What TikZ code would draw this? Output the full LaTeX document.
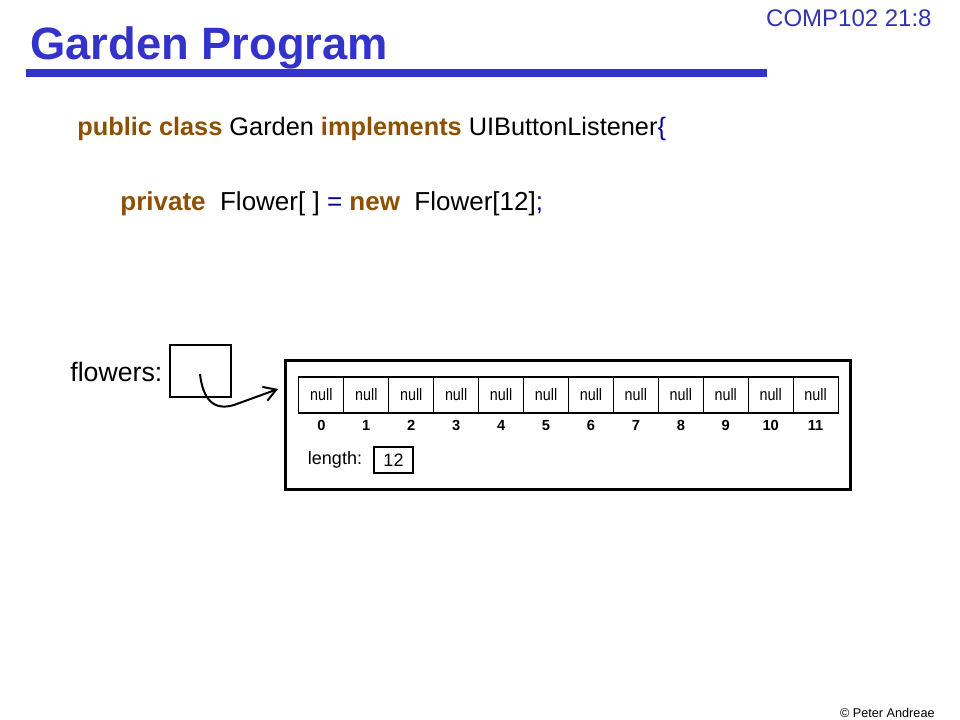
\documentclass[tikz,border=0pt]{standalone}
\usepackage{fontspec}
\setmainfont{Liberation Sans}
\newfontfamily\cellfont{Liberation Sans}[FakeStretch=0.86]
\usetikzlibrary{arrows.meta, positioning}

\definecolor{titleblue}{RGB}{51,51,204}
\definecolor{slideblue}{RGB}{51,51,170}
\definecolor{kwbrown}{RGB}{140,80,0}
\definecolor{punctblue}{RGB}{0,0,150}

\newcommand{\kw}[1]{\textcolor{kwbrown}{\bfseries #1}}

\begin{document}
\begin{tikzpicture}[x=0.75pt, y=-0.75pt, semithick,
 >={Straight Barb[length=9pt,width=11pt]}]
  \useasboundingbox (0,0) rectangle (960,720);

  % heading
  \node[anchor=base west, inner sep=0, text=titleblue,
        font=\fontsize{34}{38}\selectfont\bfseries] (title) at (30,60) {Garden Program};
  \fill[titleblue] (26,69) rectangle (767,77);
  \node[anchor=base east, inner sep=0, text=slideblue,
        font=\fontsize{18}{20}\selectfont] (slide) at (932,27) {COMP102 21:8};

  % code
  \node[anchor=base west, inner sep=0, font=\fontsize{19}{24}\selectfont] (line1) at (77,136)
   {\kw{public class} Garden \kw{implements} UIButtonListener\textcolor{punctblue}{\{}};
  \node[anchor=base west, inner sep=0, font=\fontsize{19.5}{24}\selectfont] (line2) at (120,211)
   {\kw{private}~ Flower[~] \textcolor{punctblue}{=} \kw{new}~ Flower[12]\textcolor{punctblue}{;}};

  % variable and array object
  \node[anchor=base west, inner sep=0, font=\fontsize{20}{24}\selectfont] (varname) at (70,381) {flowers:};
  \node[draw, line width=1.5pt, minimum width=45.75pt, minimum height=39pt] (flowers) at (200.5,371) {};
  \node[draw, line width=2.25pt, minimum width=423.75pt, minimum height=96.75pt] (arrobj) at (567.5,424.5) {};

  \matrix (cells) [nodes={draw, thick, minimum width=33.7pt, minimum height=27pt, inner sep=0,
                          font=\fontsize{12.5}{15}\cellfont},
                   column sep=-0.8pt, row sep=-4.5pt] at (568.5,410) {
   \node (c0) {null}; & \node (c1) {null}; & \node (c2) {null}; & \node (c3) {null}; &
   \node (c4) {null}; & \node (c5) {null}; & \node (c6) {null}; & \node (c7) {null}; &
   \node (c8) {null}; & \node (c9) {null}; & \node (c10) {null}; & \node (c11) {null}; \\
   \node[draw=none, font=\fontsize{11}{13}\bfseries] (i0) {0}; &
   \node[draw=none, font=\fontsize{11}{13}\bfseries] (i1) {1}; &
   \node[draw=none, font=\fontsize{11}{13}\bfseries] (i2) {2}; &
   \node[draw=none, font=\fontsize{11}{13}\bfseries] (i3) {3}; &
   \node[draw=none, font=\fontsize{11}{13}\bfseries] (i4) {4}; &
   \node[draw=none, font=\fontsize{11}{13}\bfseries] (i5) {5}; &
   \node[draw=none, font=\fontsize{11}{13}\bfseries] (i6) {6}; &
   \node[draw=none, font=\fontsize{11}{13}\bfseries] (i7) {7}; &
   \node[draw=none, font=\fontsize{11}{13}\bfseries] (i8) {8}; &
   \node[draw=none, font=\fontsize{11}{13}\bfseries] (i9) {9}; &
   \node[draw=none, font=\fontsize{11}{13}\bfseries] (i10) {10}; &
   \node[draw=none, font=\fontsize{11}{13}\bfseries] (i11) {11}; \\
  };

  \node[font=\fontsize{13.5}{15}\selectfont] (lenlbl) at (335,460) {length:};
  \node[draw, thick, minimum width=29.25pt, minimum height=19.5pt, inner sep=0,
        font=\fontsize{13.5}{15}\selectfont] (lenbox) at (393.5,460) {12};

  % reference
  \coordinate (ptr) at (200,374);
  \coordinate (tip) at (278,389);
  \draw[->, line width=1.5pt] (ptr) .. controls (203,400) and (214,411) .. (234,405) -- (tip);

  \node[anchor=base east, inner sep=0, font=\fontsize{9.5}{11}\selectfont] (copy) at (935,717) {© Peter Andreae};
 \end{tikzpicture}
\end{document}
